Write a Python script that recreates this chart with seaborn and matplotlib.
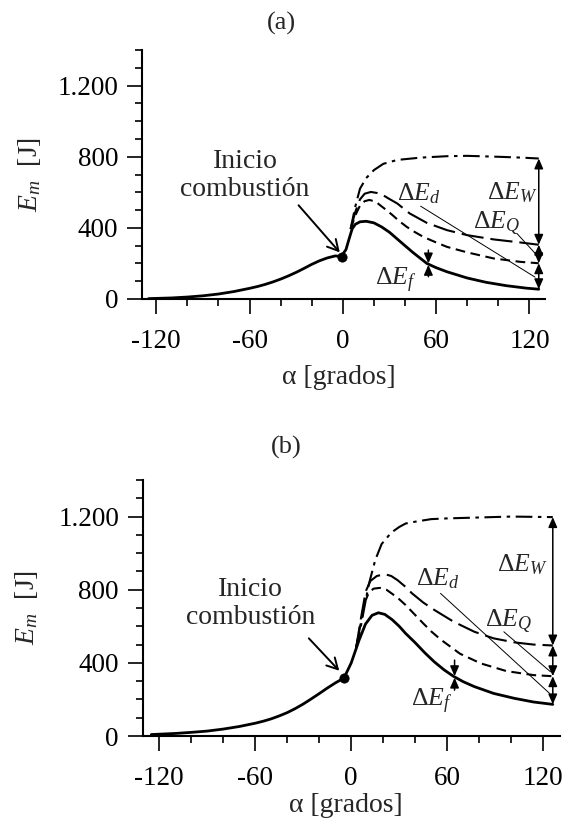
import numpy as np
import matplotlib
matplotlib.use("Agg")
import matplotlib.pyplot as plt
from matplotlib.ticker import FixedLocator, FixedFormatter, MultipleLocator
import seaborn as sns

# ---------------- data: panel (a) ----------------
a_alpha_em = [-125, -110, -100, -90, -80, -70, -60, -55, -50, -45, -40, -35, -30, -25, -20,
              -15, -10, -5, -1, 2, 4, 6, 8, 11, 15, 20, 25, 30, 37, 45, 54, 60, 67, 80, 92,
              105, 118, 126]
a_em = [2, 6, 11, 18, 28, 42, 60, 70, 82, 96, 112, 130, 150, 172, 195,
        215, 231, 242, 240, 278, 338, 395, 420, 434, 437, 428, 405, 375, 322, 262, 200, 176, 153, 118, 94,
        75, 61, 55]

a_alpha_f = [5, 8, 11, 14, 17, 21, 24, 28, 32, 36, 41, 46, 52, 60, 67, 80, 97, 114, 126]
a_ef = [392, 470, 525, 550, 557, 548, 527, 500, 471, 440, 406, 378, 348, 318, 293, 262, 228, 209, 201]

a_alpha_q = [5, 8, 11, 14, 18, 22, 26, 30, 35, 43, 54, 67, 80, 97, 114, 126]
a_eq = [395, 490, 560, 592, 602, 596, 583, 562, 537, 481, 428, 387, 359, 335, 318, 305]

a_alpha_w = [5, 8, 11, 15, 20, 26, 35, 50, 67, 80, 99, 115, 126]
a_ew = [395, 520, 620, 680, 725, 760, 782, 795, 803, 805, 800, 795, 790]

a_start = (-0.5, 238)

# ---------------- data: panel (b) ----------------
b_alpha_em = [-125, -110, -100, -90, -80, -70, -60, -55, -50, -45, -40, -35, -30, -25, -20,
              -15, -10, -7, -4.6, 0, 4.8, 8.9, 13, 17, 21, 25.6, 30, 34, 40, 46, 52, 58, 64,
              70, 77, 89, 102, 114, 126]
b_em = [8, 14, 20, 27, 38, 52, 70, 81, 94, 110, 128, 150, 175, 203, 232,
        262, 290, 305, 316, 400, 522, 612, 660, 674, 665, 636, 600, 561, 510, 455, 405, 362, 326,
        297, 270, 233, 206, 186, 173]

b_alpha_f = [3, 6, 8, 11, 14, 18, 22, 26, 30, 34, 45, 50, 56, 68, 81, 97, 114, 126]
b_ef = [480, 620, 720, 785, 806, 810, 800, 775, 748, 716, 616, 572, 527, 450, 397, 355, 333, 327]

b_alpha_q = [3, 6, 9, 12, 16, 21, 25, 29, 34, 38, 45, 52, 64, 77, 89, 102, 114, 126]
b_eq = [480, 640, 790, 848, 875, 885, 875, 852, 815, 780, 730, 689, 625, 570, 534, 512, 500, 495]

b_alpha_w = [3, 6, 9, 11, 15, 19, 25, 30, 34, 40, 50, 60, 80, 100, 126]
b_ew = [480, 600, 740, 830, 962, 1050, 1112, 1143, 1162, 1172, 1186, 1190, 1195, 1200, 1197]

b_start = (-4.6, 316)

# ---------------- axis ticks ----------------
x_ticks = [-120, -60, 0, 60, 120]
x_ticklabels = ["-120", "-60", "0", "60", "120"]
y_ticks = [0, 400, 800, 1200]
y_ticklabels = ["0", "400", "800", "1.200"]

# ---------------- style ----------------
sns.set_style("ticks")
plt.rcParams["font.family"] = ["Liberation Serif", "DejaVu Serif"]
plt.rcParams["mathtext.fontset"] = "custom"
plt.rcParams["mathtext.rm"] = "Liberation Serif"
plt.rcParams["mathtext.it"] = "Liberation Serif:italic"
plt.rcParams["mathtext.bf"] = "Liberation Serif:bold"
plt.rcParams["lines.scale_dashes"] = False

LS_Q = (0, (16, 5))          # long dashes
LS_F = (0, (7, 4))           # short dashes
LS_W = (0, (12, 4, 2.5, 4))  # dash-dot

fig = plt.figure(figsize=(5.75, 8.31), dpi=100)
ax_a = fig.add_axes([0.2475, 0.6402, 0.7003, 0.2996])
ax_b = fig.add_axes([0.2492, 0.1143, 0.7247, 0.3081])


def arrow(ax, x0, y0, x1, y1, style):
    ax.annotate("", xy=(x1, y1), xytext=(x0, y0),
                arrowprops=dict(arrowstyle=style, color="black", lw=1.1,
                                shrinkA=0, shrinkB=0, mutation_scale=12))


def panel(ax, em, ef, eq, ew, start, xlim, txt_pos, arr_from, arr_to,
          lbl, lead_d, lead_q, f_alpha, f_span, xlab_y):
    (al_em, v_em), (al_f, v_f), (al_q, v_q), (al_w, v_w) = em, ef, eq, ew
    sns.lineplot(x=al_w, y=v_w, ax=ax, color="black", lw=1.5, linestyle=LS_W,
                 sort=False, estimator=None)
    sns.lineplot(x=al_q, y=v_q, ax=ax, color="black", lw=1.5, linestyle=LS_Q,
                 sort=False, estimator=None)
    sns.lineplot(x=al_f, y=v_f, ax=ax, color="black", lw=1.5, linestyle=LS_F,
                 sort=False, estimator=None)
    sns.lineplot(x=al_em, y=v_em, ax=ax, color="black", lw=2.0,
                 sort=False, estimator=None)
    sns.scatterplot(x=[start[0]], y=[start[1]], ax=ax, color="black", s=45,
                    edgecolor="black", zorder=5)

    # combustion start annotation
    ax.text(txt_pos[0], txt_pos[1], "Inicio\ncombustión", ha="center", va="center",
            fontsize=20, linespacing=1.15)
    ax.annotate("", xy=arr_to, xytext=arr_from,
                arrowprops=dict(arrowstyle="->,head_length=0.55,head_width=0.3",
                                color="black", lw=1.4, shrinkA=0, shrinkB=0,
                                mutation_scale=14))

    # energy balance at the end of expansion
    xe = al_em[-1]
    head = "<|-|>,head_length=0.5,head_width=0.22"
    arrow(ax, xe, v_q[-1], xe, v_w[-1], head)
    arrow(ax, xe, v_f[-1], xe, v_q[-1], head)
    arrow(ax, xe, v_em[-1], xe, v_f[-1], head)

    # friction loss marker
    yc = np.interp(f_alpha, al_em, v_em)
    arrow(ax, f_alpha, f_span[1], f_alpha, yc + 4, "-|>,head_length=0.5,head_width=0.22")
    arrow(ax, f_alpha, f_span[0], f_alpha, yc - 4, "-|>,head_length=0.5,head_width=0.22")

    for key, (x, y) in lbl.items():
        ax.text(x, y, r"$\Delta E_{%s}$" % key, ha="left", va="baseline", fontsize=18.5)
    ax.plot(*zip(*lead_d), color="black", lw=0.7)
    ax.plot(*zip(*lead_q), color="black", lw=0.7)

    ax.set_xlim(*xlim)
    ax.set_ylim(0, 1400)
    ax.xaxis.set_major_locator(FixedLocator(x_ticks))
    ax.xaxis.set_major_formatter(FixedFormatter(x_ticklabels))
    ax.xaxis.set_minor_locator(MultipleLocator(20))
    ax.yaxis.set_major_locator(FixedLocator(y_ticks))
    ax.yaxis.set_major_formatter(FixedFormatter(y_ticklabels))
    ax.yaxis.set_minor_locator(MultipleLocator(100))
    ax.tick_params(axis="both", which="major", direction="out", length=10.5,
                   width=1.2, labelsize=19.5, color="black", labelcolor="black")
    ax.tick_params(axis="both", which="minor", direction="out", length=5,
                   width=1.2, color="black")
    ax.tick_params(axis="x", which="major", pad=11)
    ax.tick_params(axis="y", which="major", pad=7)
    sns.despine(ax=ax)
    for s in ("left", "bottom"):
        ax.spines[s].set_linewidth(1.5)
        ax.spines[s].set_color("black")
    ax.set_xlabel("α [grados]", fontsize=20, va="center")
    ax.xaxis.set_label_coords(0.487, xlab_y)
    ax.set_ylabel(r"$E_m$  [J]", fontsize=20, va="center")
    ax.yaxis.set_label_coords(-0.28, 0.5)


panel(ax_a, (a_alpha_em, a_em), (a_alpha_f, a_ef), (a_alpha_q, a_eq), (a_alpha_w, a_ew),
      a_start, (-129, 130), (-63, 696), (-28.5, 527), (-2.0, 262),
      {"d": (35, 555), "W": (92.6, 562), "Q": (83.6, 398), "f": (20.8, 79)},
      [(50, 522), (123.6, 123)], [(111.9, 369), (124.7, 247)],
      55, (125, 275), -0.317)

panel(ax_b, (b_alpha_em, b_em), (b_alpha_f, b_ef), (b_alpha_q, b_eq), (b_alpha_w, b_ew),
      b_start, (-130, 130.5), (-63, 724), (-26.5, 534), (-7.5, 357),
      {"d": (40.2, 825), "W": (91.2, 898), "Q": (83.9, 597), "f": (37.1, 160)},
      [(55.8, 780), (124, 233)], [(95.4, 570), (124.6, 351)],
      64.6, (251, 415), -0.273)

fig.text(281 / 575, 1 - 23 / 831, "(a)", ha="center", va="center", fontsize=19)
fig.text(286.7 / 575, 1 - 447 / 831, "(b)", ha="center", va="center", fontsize=19)

fig.savefig("out.png", dpi=100, facecolor="white")
